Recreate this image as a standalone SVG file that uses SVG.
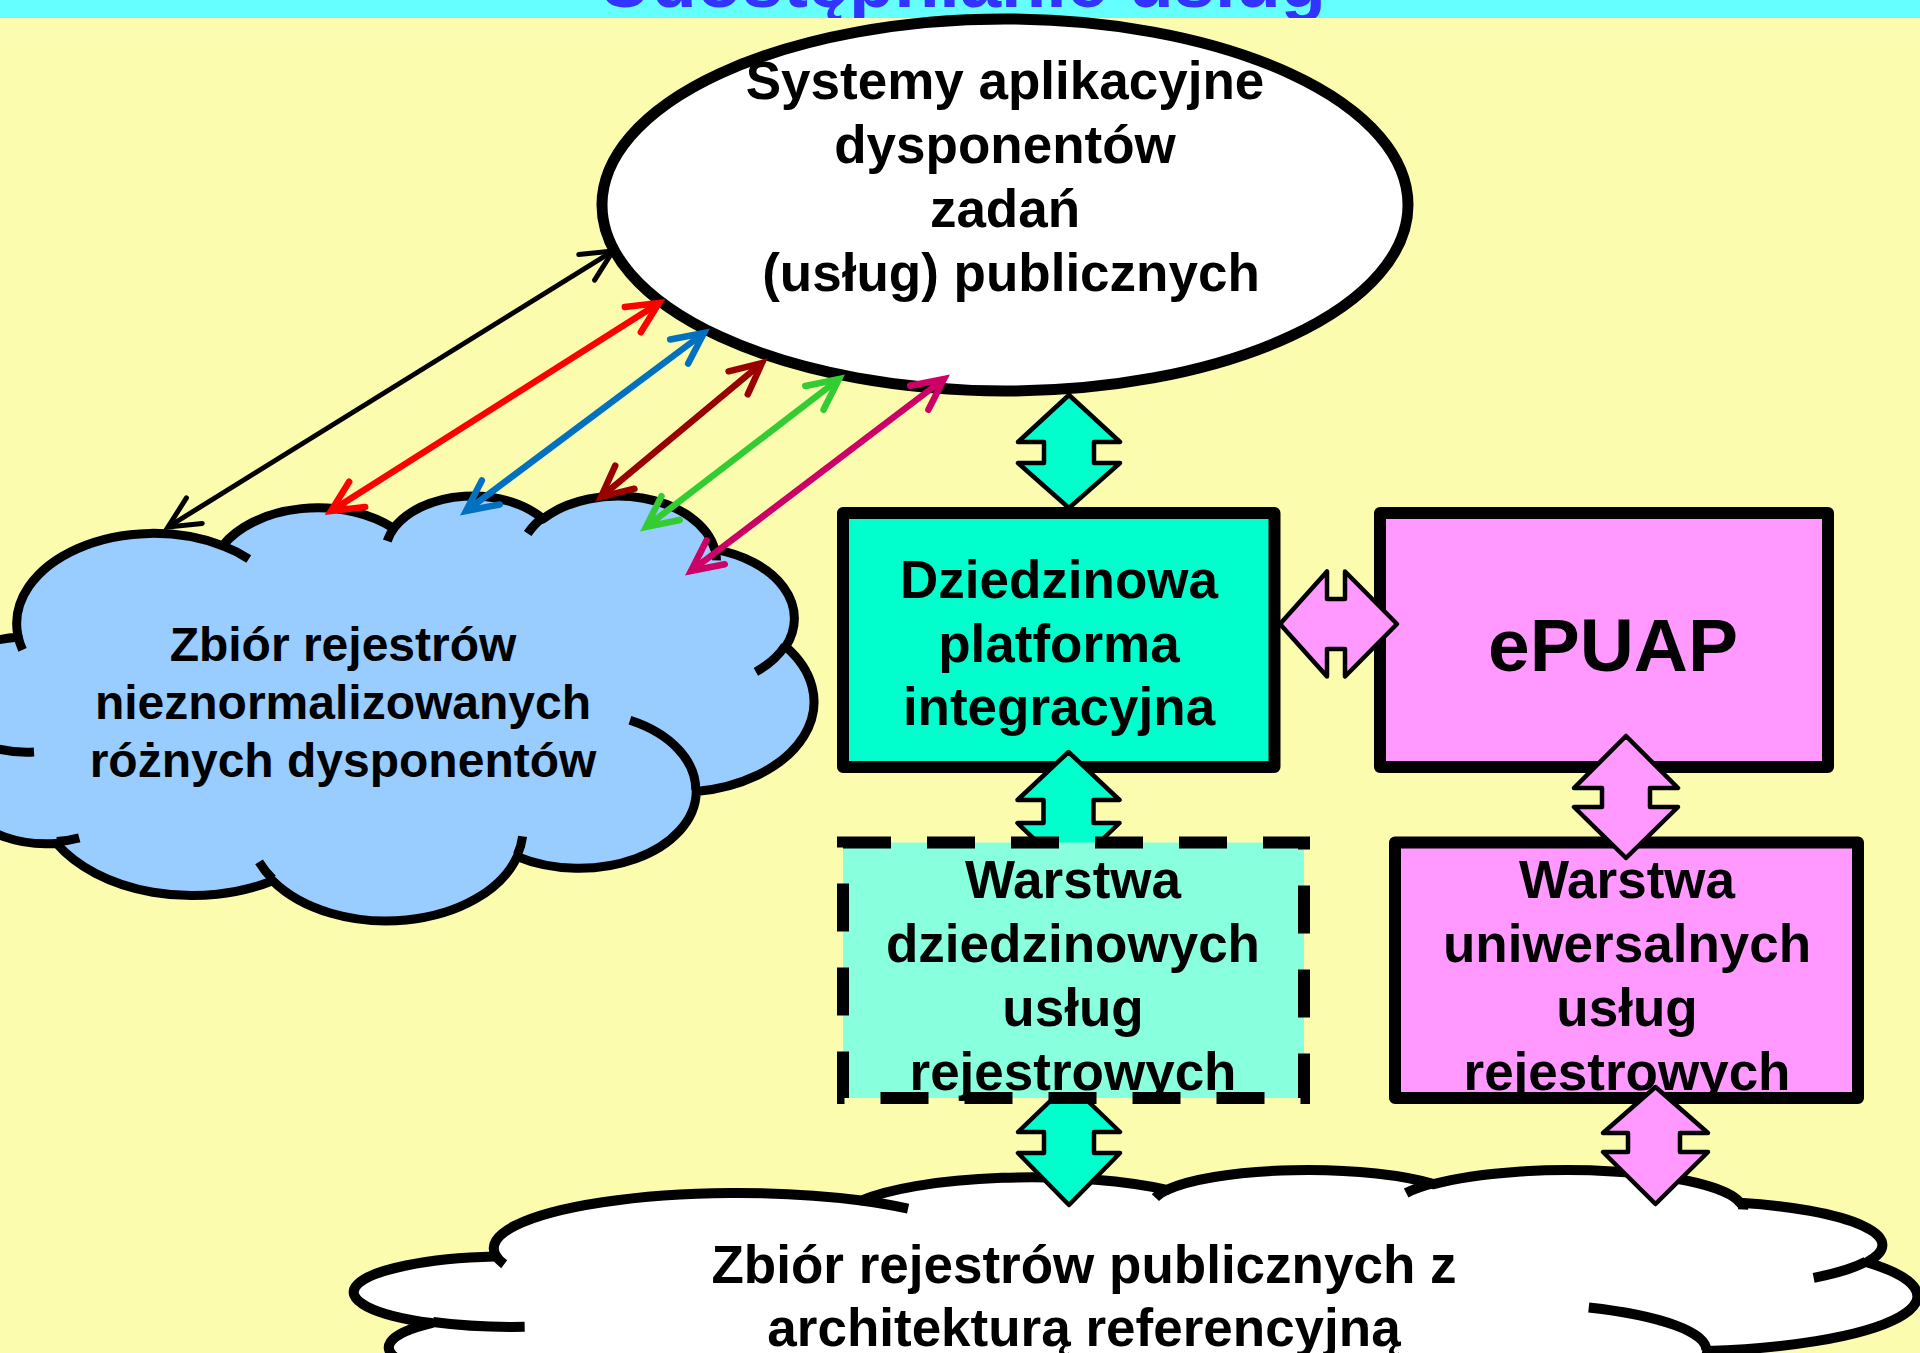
<svg xmlns="http://www.w3.org/2000/svg" width="1920" height="1353" viewBox="0 0 1920 1353">
  <defs>
    <style>
      .t { font-family: "Liberation Sans", Arial, sans-serif; font-weight: bold; fill: #000; text-anchor: middle; }
      .t53 { font-size: 53px; }
      .t48 { font-size: 48px; }
      .cl { stroke: #000; stroke-linejoin: round; }
      .ba { stroke: #000; stroke-width: 4.5; stroke-linejoin: round; }
      .ln { fill: none; stroke-linecap: butt; }
    </style>
    <clipPath id="bandClip"><rect x="0" y="0" width="1920" height="18"/></clipPath>
    <path id="cloudBody" vector-effect="non-scaling-stroke" d="M3900 14370 A6753 9190 0 0 1 14005 5203 A5333 7267 0 0 1 22457 3430 A4365 5945 0 0 1 29835 2479 A4857 6595 0 0 1 38319 5575 A5333 7273 0 0 1 41820 15459 A6775 9220 0 0 1 37405 30200 A5785 7867 0 0 1 28557 36811 A6752 9215 0 0 1 16482 39264 A7720 10543 0 0 1 5804 35469 A4360 5918 0 0 1 2112 25547 A4345 5945 0 0 1 3863 14504 Z"/>
    <path id="cloudInner" vector-effect="non-scaling-stroke" d="M4693 26177 A4345 5945 0 0 1 2159 25380 M6928 34899 A4360 5918 0 0 1 5819 35281 M16478 39090 A6752 9215 0 0 1 15810 37349 M28827 34751 A6752 9215 0 0 1 28561 36659 M34129 22954 A5785 7867 0 0 1 37380 30090 M41798 15354 A5333 7273 0 0 1 40350 18030 M38324 5426 A4857 6595 0 0 1 38400 6690 M29078 3952 A4857 6595 0 0 1 29821 2337 M22141 4720 A4365 5945 0 0 1 22500 3331 M14000 5192 A6753 9190 0 0 1 15300 6540 M4127 15789 A6753 9190 0 0 1 3900 14370"/>
    <marker id="mk-black" markerUnits="userSpaceOnUse" markerWidth="80" markerHeight="80" viewBox="-40 -40 80 80" refX="0" refY="0" orient="auto-start-reverse" overflow="visible"><path d="M-31 -15 L0 0 L-31 15" fill="none" stroke="#000000" stroke-width="5" stroke-linecap="round"/></marker>
    <marker id="mk-red" markerUnits="userSpaceOnUse" markerWidth="80" markerHeight="80" viewBox="-40 -40 80 80" refX="0" refY="0" orient="auto-start-reverse" overflow="visible"><path d="M-31 -15 L0 0 L-31 15" fill="none" stroke="#FF0000" stroke-width="6.5" stroke-linecap="round"/></marker>
    <marker id="mk-blue" markerUnits="userSpaceOnUse" markerWidth="80" markerHeight="80" viewBox="-40 -40 80 80" refX="0" refY="0" orient="auto-start-reverse" overflow="visible"><path d="M-31 -15 L0 0 L-31 15" fill="none" stroke="#0070C0" stroke-width="6.5" stroke-linecap="round"/></marker>
    <marker id="mk-dred" markerUnits="userSpaceOnUse" markerWidth="80" markerHeight="80" viewBox="-40 -40 80 80" refX="0" refY="0" orient="auto-start-reverse" overflow="visible"><path d="M-31 -15 L0 0 L-31 15" fill="none" stroke="#990000" stroke-width="6.5" stroke-linecap="round"/></marker>
    <marker id="mk-green" markerUnits="userSpaceOnUse" markerWidth="80" markerHeight="80" viewBox="-40 -40 80 80" refX="0" refY="0" orient="auto-start-reverse" overflow="visible"><path d="M-31 -15 L0 0 L-31 15" fill="none" stroke="#33CC33" stroke-width="6.5" stroke-linecap="round"/></marker>
    <marker id="mk-mag" markerUnits="userSpaceOnUse" markerWidth="80" markerHeight="80" viewBox="-40 -40 80 80" refX="0" refY="0" orient="auto-start-reverse" overflow="visible"><path d="M-31 -15 L0 0 L-31 15" fill="none" stroke="#CC0066" stroke-width="6.5" stroke-linecap="round"/></marker>
  </defs>

  <!-- background -->
  <rect x="0" y="0" width="1920" height="1353" fill="#FCFCAF"/>
  <rect x="0" y="0" width="1920" height="18" fill="#66FFFF"/>
  <g id="title" clip-path="url(#bandClip)">
    <text x="962" y="7" font-family="'Liberation Sans', Arial, sans-serif" font-weight="bold" font-size="74" fill="#3333FF" text-anchor="middle">Udostępnianie usług</text>
  </g>

  <!-- ellipse node -->
  <g id="node-systemy">
    <ellipse cx="1005" cy="205" rx="403" ry="186" fill="#FFFFFF" stroke="#000" stroke-width="11"/>
    <text class="t t53" x="1005" y="99">Systemy aplikacyjne</text>
    <text class="t t53" x="1005" y="163">dysponentów</text>
    <text class="t t53" x="1005" y="227">zadań</text>
    <text class="t t53" x="1011" y="291">(usług) publicznych</text>
  </g>

  <!-- left cloud -->
  <g id="node-cloud-left">
    <g transform="translate(-61 494.6) scale(0.020245 0.009834)">
      <use href="#cloudBody" class="cl" fill="#99CCFF" stroke-width="9"/>
      <use href="#cloudInner" class="cl" fill="none" stroke-width="9"/>
    </g>
    <text class="t t48" x="343" y="661">Zbiór rejestrów</text>
    <text class="t t48" x="343" y="719">nieznormalizowanych</text>
    <text class="t t48" x="343" y="777">różnych dysponentów</text>
  </g>

  <!-- bottom cloud -->
  <g id="node-cloud-bottom">
    <g transform="translate(355 1169.2) scale(0.03615 0.006023)">
      <use href="#cloudBody" class="cl" fill="#FFFFFF" stroke-width="10"/>
      <use href="#cloudInner" class="cl" fill="none" stroke-width="10"/>
    </g>
    <text class="t t53" x="1084" y="1283">Zbiór rejestrów publicznych z</text>
    <text class="t t53" x="1084" y="1346">architekturą referencyjną</text>
  </g>

  <!-- Dziedzinowa platforma -->
  <g id="node-platforma">
    <rect x="843" y="513" width="431.5" height="254" fill="#00FFCC" stroke="#000" stroke-width="12" stroke-linejoin="round"/>
    <text class="t t53" x="1059" y="598">Dziedzinowa</text>
    <text class="t t53" x="1059" y="662">platforma</text>
    <text class="t t53" x="1059" y="725">integracyjna</text>
  </g>

  <!-- ePUAP -->
  <g id="node-epuap">
    <rect x="1380" y="513" width="448" height="254" fill="#FF99FF" stroke="#000" stroke-width="12" stroke-linejoin="round"/>
    <text class="t" x="1613" y="671" font-size="75">ePUAP</text>
  </g>

  <!-- Warstwa uniwersalnych -->
  <g id="node-warstwa-uni">
    <rect x="1395" y="842.5" width="463" height="255.5" fill="#FF99FF" stroke="#000" stroke-width="12" stroke-linejoin="round"/>
    <text class="t t53" x="1627" y="898">Warstwa</text>
    <text class="t t53" x="1627" y="962">uniwersalnych</text>
    <text class="t t53" x="1627" y="1026">usług</text>
    <text class="t t53" x="1627" y="1090">rejestrowych</text>
  </g>

  <!-- connectors -->
  <g id="connectors">
    <line class="ln" x1="613" y1="251" x2="168" y2="527" stroke="#000000" stroke-width="5" marker-start="url(#mk-black)" marker-end="url(#mk-black)"/>
    <line class="ln" x1="659" y1="303" x2="331" y2="511" stroke="#FF0000" stroke-width="6.5" marker-start="url(#mk-red)" marker-end="url(#mk-red)"/>
    <line class="ln" x1="704" y1="333" x2="466" y2="511" stroke="#0070C0" stroke-width="6.5" marker-start="url(#mk-blue)" marker-end="url(#mk-blue)"/>
    <line class="ln" x1="762" y1="363" x2="601" y2="497" stroke="#990000" stroke-width="6.5" marker-start="url(#mk-dred)" marker-end="url(#mk-dred)"/>
    <line class="ln" x1="839" y1="379" x2="646" y2="527" stroke="#33CC33" stroke-width="6.5" marker-start="url(#mk-green)" marker-end="url(#mk-green)"/>
    <line class="ln" x1="944" y1="379" x2="691" y2="571" stroke="#CC0066" stroke-width="6.5" marker-start="url(#mk-mag)" marker-end="url(#mk-mag)"/>

    <path class="ba" fill="#00FFCC" d="M1069 395 L1120 442 L1094 442 L1094 463 L1120 463 L1069 508 L1018 463 L1044 463 L1044 442 L1018 442 Z"/>
    <path class="ba" fill="#00FFCC" d="M1068.5 752 L1119.5 800 L1093.5 800 L1093.5 823 L1119.5 823 L1068.5 872 L1017.5 823 L1043.5 823 L1043.5 800 L1017.5 800 Z"/>
    <path class="ba" fill="#00FFCC" d="M1069 1083 L1120 1132 L1094 1132 L1094 1153 L1120 1153 L1069 1205 L1018 1153 L1044 1153 L1044 1132 L1018 1132 Z"/>
    <path class="ba" fill="#FF99FF" d="M1280 624 L1327 571.5 L1327 599 L1345 599 L1345 571.5 L1397 624 L1345 676.5 L1345 649 L1327 649 L1327 676.5 Z"/>
    <path class="ba" fill="#FF99FF" d="M1626 736 L1678 788 L1650 788 L1650 807 L1678 807 L1626 858 L1574 807 L1602 807 L1602 788 L1574 788 Z"/>
    <path class="ba" fill="#FF99FF" d="M1655.5 1087 L1708 1133 L1680 1133 L1680 1152 L1708 1152 L1655.5 1204 L1603 1152 L1628 1152 L1628 1133 L1603 1133 Z"/>
  </g>

  <!-- Warstwa dziedzinowych -->
  <g id="node-warstwa-dz">
    <rect x="843" y="842.5" width="461" height="255.5" fill="#88FFDD" stroke="#000" stroke-width="12" stroke-dasharray="48 36"/>
    <text class="t t53" x="1073" y="898">Warstwa</text>
    <text class="t t53" x="1073" y="962">dziedzinowych</text>
    <text class="t t53" x="1073" y="1026">usług</text>
    <text class="t t53" x="1073" y="1090">rejestrowych</text>
  </g>
</svg>
